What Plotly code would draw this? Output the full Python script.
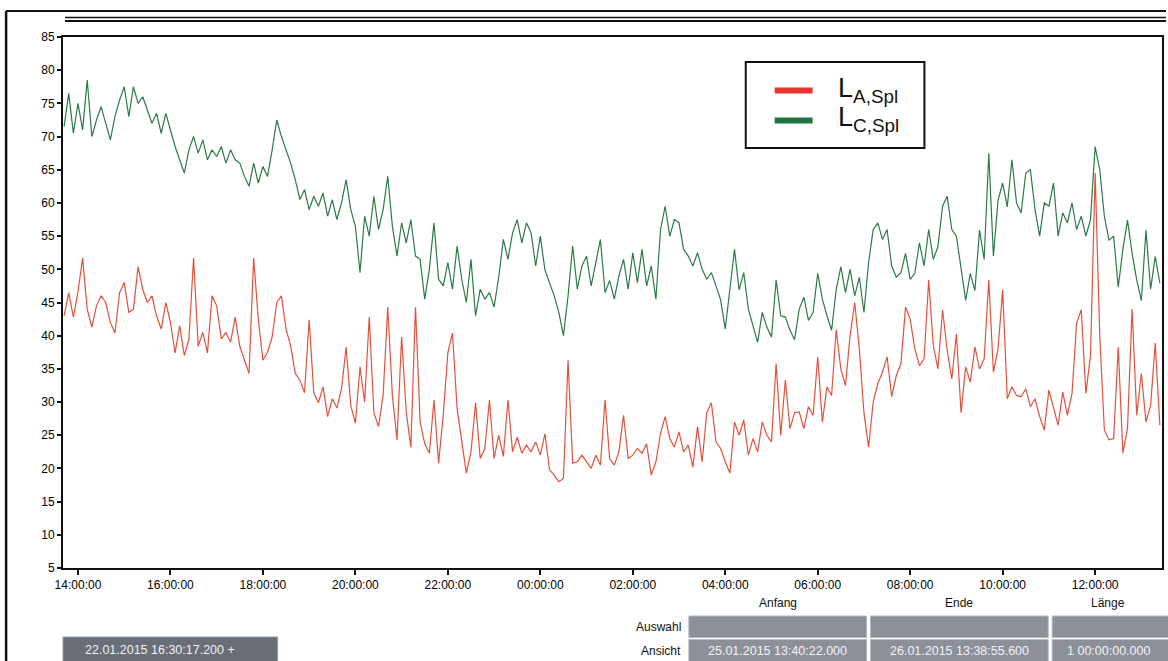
import pandas as pd
import plotly.graph_objects as go

# Sound pressure levels in dB, sampled every 6 minutes from 25.01.2015 13:42
START = "2015-01-25 13:42:00"
STEP = "6min"

L_C_SPL = [
    71.5, 76.5, 70.5, 75, 71, 78.5, 70, 72.5, 74.5, 72,
    69.5, 73, 75.5, 77.5, 73, 77.5, 75, 76, 74, 72,
    73.5, 70.5, 73.5, 71, 68.5, 66.5, 64.5, 68, 70, 67.5,
    69.5, 66.5, 68, 67, 68.5, 66, 68, 66.5, 66, 64,
    62.5, 66, 63, 65.5, 64, 68, 72.5, 70, 68, 66,
    63.5, 60.5, 62, 59, 61, 59.5, 61.5, 58, 60.5, 57.5,
    60, 63.5, 59, 56.5, 49.5, 58, 55, 61, 56, 59,
    64, 56.5, 52, 57, 54, 57.5, 52, 51.5, 45.5, 50,
    57, 48.5, 47.5, 51, 47, 53.5, 48.5, 45, 51.5, 43,
    47, 45.5, 46.5, 44.3, 48.8, 54.5, 51.5, 55.5, 57.5, 54,
    57, 55.5, 50.5, 55, 49.9, 48, 46, 43.5, 40, 46,
    53.5, 47, 50.5, 52, 47.5, 51, 54.5, 46.5, 48.3, 45.5,
    49, 51.5, 47, 52.5, 48, 53, 47.5, 50.5, 45.5, 56,
    59.5, 55, 57.5, 57, 53, 52, 50.5, 52.5, 50, 48.5,
    49.5, 47.5, 45.4, 41, 47, 53, 46.9, 49.5, 44, 41.3,
    39, 43.5, 41.3, 39.8, 48.4, 43, 42.8, 40.8, 39.4, 44,
    45.8, 42.3, 43.5, 49.4, 45.5, 43, 40.8, 47, 50.4, 46.5,
    50, 46, 48.8, 43.5, 51, 56, 57, 54.5, 56, 50.5,
    48.8, 49.5, 52.4, 48.5, 49.4, 54, 50.5, 56, 51.5, 53.4,
    59.5, 61, 56, 55, 49.9, 45.3, 49.4, 46.8, 55.9, 51.5,
    67.5, 52, 60.4, 63, 59.4, 66.5, 60, 58.5, 64.5, 65,
    59, 55, 60, 59.5, 63, 55, 58.5, 57, 60, 56,
    58, 55, 57.5, 68.5, 65, 58, 54.4, 55, 47.3, 53,
    57.4, 52.4, 48.4, 45.3, 55.9, 47, 51.9, 47.9,
]

L_A_SPL = [
    43, 46.5, 42.8, 46.6, 51.7, 44, 41.3, 44.5, 46, 45,
    42, 40.4, 46.5, 48, 43.5, 44, 50.4, 47, 45, 46,
    43, 41, 45, 42, 37.4, 41.5, 37, 39.5, 51.7, 38.4,
    40.5, 37.4, 46, 44.5, 39.5, 40.5, 39, 42.8, 38.4, 36.5,
    34.3, 51.7, 42.5, 36.3, 37.5, 39.8, 45, 46, 41, 38.5,
    34.3, 33.3, 31.4, 42.4, 31.4, 29.9, 32.3, 27.8, 30.5, 29.1,
    32, 38.3, 29.5, 26.8, 35.3, 30, 42.8, 28.4, 26.3, 31,
    44.3, 31, 24.3, 39.8, 28.5, 23.2, 44.3, 27, 23.7, 22.3,
    30.3, 20.8, 28, 37.4, 40.4, 29, 24.5, 19.3, 22.5, 29.9,
    21.5, 23, 30.3, 21.5, 25, 21.8, 30.3, 22.5, 24.7, 22.3,
    23.5, 22.5, 24, 22, 25.2, 19.8, 19, 18, 18.5, 36.3,
    20.8, 21, 22, 21, 20, 22, 20.5, 30.3, 21.5, 20.5,
    22.5, 28, 21.5, 22, 23, 22.3, 23.7, 19, 21, 25.3,
    27.8, 24.5, 23.2, 25.5, 22.5, 23.5, 20.2, 26.3, 21, 28.4,
    29.9, 24, 23, 21, 19.3, 27, 25, 27.3, 22, 24.5,
    22.5, 27, 25, 24, 35.8, 25, 33.3, 26, 28.4, 28.5,
    26, 29.3, 28, 36.8, 27, 32.3, 31, 40.9, 35, 32.5,
    40, 45, 38, 28.4, 23.2, 30, 32.8, 34.5, 36.8, 30.8,
    34, 35.8, 44.3, 42.5, 38, 35.5, 36.5, 48.4, 38.5, 35,
    43.9, 37.8, 33.5, 40.3, 28.4, 35.3, 33, 38.3, 35, 36.5,
    48.4, 34.5, 38, 46.9, 30.5, 32.3, 31, 30.8, 32, 29.3,
    30.5, 27.8, 25.8, 31.8, 29, 26.5, 31.5, 28, 31.3, 41.9,
    43.9, 31.3, 37, 64.5, 40, 25.8, 24.3, 24.5, 38.3, 22.3,
    26, 44, 28, 34.3, 27, 29.5, 38.9, 26.5,
]

SERIES_NAMES = ["L<sub>A,Spl</sub>", "L<sub>C,Spl</sub>"]
SERIES_COLORS = ["#e4503c", "#2c7a48"]
LEGEND_COLORS = ["#e8362c", "#1f7440"]

X_RANGE = ["2015-01-25 13:40:34", "2015-01-26 13:26:47"]
TICK_START = "2015-01-25 14:00:00"
Y_TICKS = list(range(5, 90, 5))

TIMES = pd.date_range(START, periods=len(L_C_SPL), freq=STEP)

W, H = 1168, 661
PL, PR, PT, PB = 63, 1164, 37, 568


def px(x):
    return (x - PL) / (PR - PL)


def py(y):
    return (PB - y) / (PB - PT)


FONT = "Liberation Sans, Arial, sans-serif"

fig = go.Figure()
fig.add_trace(go.Scatter(x=TIMES, y=L_A_SPL, mode="lines", name=SERIES_NAMES[0],
                         line=dict(color=SERIES_COLORS[0], width=1.2), showlegend=False))
fig.add_trace(go.Scatter(x=TIMES, y=L_C_SPL, mode="lines", name=SERIES_NAMES[1],
                         line=dict(color=SERIES_COLORS[1], width=1.2), showlegend=False))

shapes = []
annotations = []

# outer window frame
shapes.append(dict(type="line", xref="paper", yref="paper", x0=px(6), x1=px(1168),
                   y0=py(11), y1=py(11), line=dict(color="#111", width=2)))
shapes.append(dict(type="line", xref="paper", yref="paper", x0=px(6), x1=px(6),
                   y0=py(11), y1=py(661), line=dict(color="#111", width=2.5)))
shapes.append(dict(type="line", xref="paper", yref="paper", x0=px(65), x1=px(1168),
                   y0=py(17.5), y1=py(17.5), line=dict(color="#111", width=1.5)))
shapes.append(dict(type="line", xref="paper", yref="paper", x0=px(65), x1=px(1168),
                   y0=py(21), y1=py(21), line=dict(color="#111", width=2)))

# legend box
shapes.append(dict(type="rect", xref="paper", yref="paper", x0=px(747), x1=px(926),
                   y0=py(62), y1=py(148), line=dict(color="#111", width=2),
                   fillcolor="white"))
for i, (name, col) in enumerate(zip(SERIES_NAMES, LEGEND_COLORS)):
    yc = 90.5 + 30 * i
    shapes.append(dict(type="line", xref="paper", yref="paper", x0=px(776), x1=px(814),
                       y0=py(yc), y1=py(yc), line=dict(color=col, width=6)))
    annotations.append(dict(xref="paper", yref="paper", x=px(837), y=py(yc - 1),
                            xanchor="left", yanchor="middle", showarrow=False,
                            text=name, font=dict(family=FONT, size=27, color="#111")))

# time panel beneath the chart
BOX = "#8c9099"
DARK_BOX = "#6a6e77"
shapes.append(dict(type="rect", xref="paper", yref="paper", x0=px(63), x1=px(278),
                   y0=py(637), y1=py(662), line=dict(color="#9a9ea6", width=1),
                   fillcolor=DARK_BOX))
annotations.append(dict(xref="paper", yref="paper", x=px(160), y=py(650),
                        xanchor="center", yanchor="middle", showarrow=False,
                        text="22.01.2015 16:30:17.200 +",
                        font=dict(family=FONT, size=12.5, color="#eef0f4")))

cols = [(690, 868), (872, 1050), (1054, 1172)]
headers = ["Anfang", "Ende", "Länge"]
view_vals = ["25.01.2015 13:40:22.000", "26.01.2015 13:38:55.600", "1 00:00:00.000"]
for (x0, x1), head, val in zip(cols, headers, view_vals):
    shapes.append(dict(type="rect", xref="paper", yref="paper", x0=px(x0), x1=px(x1),
                       y0=py(616), y1=py(637.5), line=dict(color="#b4b7bd", width=1),
                       fillcolor=BOX))
    shapes.append(dict(type="rect", xref="paper", yref="paper", x0=px(x0), x1=px(x1),
                       y0=py(639.5), y1=py(662), line=dict(color="#b4b7bd", width=1),
                       fillcolor=BOX))
    annotations.append(dict(xref="paper", yref="paper", x=px((x0 + min(x1, 1166)) / 2),
                            y=py(603), xanchor="center", yanchor="middle", showarrow=False,
                            text=head, font=dict(family=FONT, size=12, color="#111")))
    annotations.append(dict(xref="paper", yref="paper", x=px((x0 + min(x1, 1166)) / 2),
                            y=py(651), xanchor="center", yanchor="middle", showarrow=False,
                            text=val, font=dict(family=FONT, size=12.5, color="#f2f3f6")))
for label, yc in [("Auswahl", 627), ("Ansicht", 651)]:
    annotations.append(dict(xref="paper", yref="paper", x=px(684), y=py(yc),
                            xanchor="right", yanchor="middle", showarrow=False,
                            text=label, font=dict(family=FONT, size=12, color="#111")))

fig.update_layout(
    width=W, height=H,
    margin=dict(l=PL, r=W - PR, t=PT, b=H - PB, pad=0),
    paper_bgcolor="white", plot_bgcolor="white",
    shapes=shapes, annotations=annotations,
    showlegend=False,
    xaxis=dict(
        type="date", range=X_RANGE, tick0=TICK_START, dtick=2 * 3600 * 1000,
        tickformat="%H:%M:%S", showgrid=False, zeroline=False,
        showline=True, linecolor="#111", linewidth=2, mirror=True,
        ticks="outside", ticklen=5, tickcolor="#111", tickwidth=1.5,
        tickfont=dict(family=FONT, size=12, color="#000"),
    ),
    yaxis=dict(
        range=[5, 85], tickvals=Y_TICKS, showgrid=False, zeroline=False,
        showline=True, linecolor="#111", linewidth=2, mirror=True,
        ticks="outside", ticklen=4, tickcolor="#111", tickwidth=1.5,
        tickfont=dict(family=FONT, size=12, color="#000"),
    ),
)

fig.write_html("out.html")
